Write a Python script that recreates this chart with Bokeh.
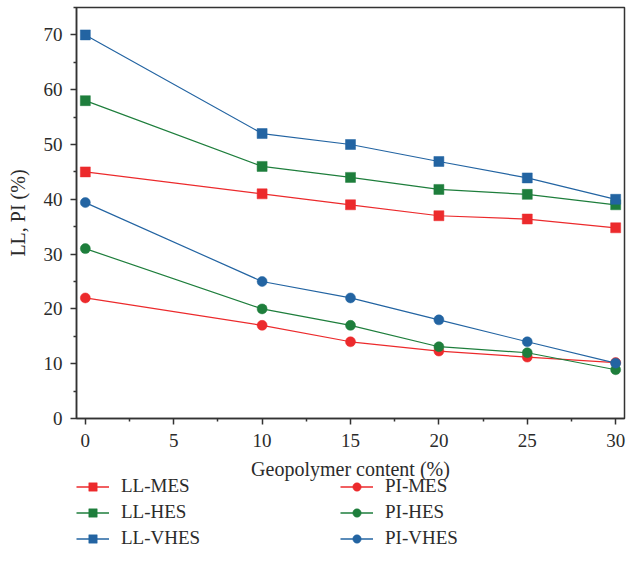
from bokeh.plotting import figure
from bokeh.layouts import column
from bokeh.models import Legend, LegendItem, Range1d, FixedTicker
from bokeh.embed import file_html
from bokeh.resources import INLINE

x = [0, 10, 15, 20, 25, 30]
ll_mes = [45, 41, 39, 37, 36.4, 34.8]
ll_hes = [58, 46, 44, 41.8, 40.9, 39]
ll_vhes = [70, 52, 50, 46.9, 43.9, 40]
pi_mes = [22, 17, 14, 12.3, 11.2, 10.2]
pi_hes = [31, 20, 17, 13.1, 12, 8.9]
pi_vhes = [39.4, 25, 22, 18, 14, 10.1]
names = ["LL-MES", "LL-HES", "LL-VHES", "PI-MES", "PI-HES", "PI-VHES"]

RED = "#ec2a2c"
GREEN = "#1e7e3c"
BLUE = "#2364a2"
FONT = "Liberation Serif"
TXT = "#2b2b2b"

series = [
    (names[0], ll_mes, RED, "square"),
    (names[1], ll_hes, GREEN, "square"),
    (names[2], ll_vhes, BLUE, "square"),
    (names[3], pi_mes, RED, "circle"),
    (names[4], pi_hes, GREEN, "circle"),
    (names[5], pi_vhes, BLUE, "circle"),
]

MSIZE = 10

p = figure(width=626, height=484, output_backend="svg", toolbar_location=None,
           x_range=Range1d(-0.5, 30.5), y_range=Range1d(0, 75),
           min_border_left=76, min_border_right=2, min_border_top=7,
           min_border_bottom=66)
p.grid.visible = False
p.outline_line_color = "#333333"
p.outline_line_width = 1.5
p.border_fill_alpha = 0

for name, ys, col, mk in series:
    p.line(x, ys, line_color=col, line_width=1.2)
    p.scatter(x, ys, marker=mk, size=MSIZE,
              fill_color=col, line_color=col, line_width=0.5)

for ax in (p.xaxis[0], p.yaxis[0]):
    ax.axis_line_color = "#333333"
    ax.axis_line_width = 1.5
    ax.major_tick_line_color = "#333333"
    ax.minor_tick_line_color = "#333333"
    ax.major_tick_line_width = 1.5
    ax.minor_tick_line_width = 1.5
    ax.major_tick_in = 0
    ax.major_tick_out = 6
    ax.minor_tick_in = 0
    ax.minor_tick_out = 3
    ax.major_label_text_font = FONT
    ax.major_label_text_font_size = "19px"
    ax.major_label_text_color = TXT
    ax.axis_label_text_font = FONT
    ax.axis_label_text_font_size = "20px"
    ax.axis_label_text_font_style = "normal"
    ax.axis_label_text_color = TXT

p.xaxis.ticker = FixedTicker(ticks=[0, 5, 10, 15, 20, 25, 30],
                             minor_ticks=[2.5, 7.5, 12.5, 17.5, 22.5, 27.5])
p.yaxis.ticker = FixedTicker(ticks=[0, 10, 20, 30, 40, 50, 60, 70],
                             minor_ticks=[5, 15, 25, 35, 45, 55, 65, 75])
p.xaxis.axis_label = "Geopolymer content (%)"
p.yaxis.axis_label = "LL, PI (%)"
p.xaxis.major_label_standoff = 9
p.xaxis.axis_label_standoff = 8
p.yaxis.major_label_standoff = 8
p.yaxis.axis_label_standoff = 12

# legend panel below the chart (overlaps the chart's lower border slightly)
q = figure(width=626, height=106, output_backend="svg", toolbar_location=None,
           x_range=Range1d(0, 1), y_range=Range1d(0, 1),
           min_border_left=0, min_border_right=0, min_border_top=0,
           min_border_bottom=0, x_axis_location=None, y_axis_location=None,
           margin=(-10, 0, 0, 0))
q.grid.visible = False
q.outline_line_color = None
q.background_fill_alpha = 0
q.border_fill_alpha = 0

items = []
for name, ys, col, mk in series:
    r1 = q.line([-5, -4], [-5, -4], line_color=col, line_width=1.5)
    r2 = q.scatter([-5], [-5], marker=mk, size=MSIZE,
                   fill_color=col, line_color=col, line_width=0.5)
    items.append(LegendItem(label=name, renderers=[r1, r2]))

legend = Legend(items=items, ncols=2, orientation="vertical",
                location=(0, 31),
                label_text_font=FONT, label_text_font_size="19px",
                label_text_color=TXT,
                glyph_width=33, glyph_height=21, label_height=21,
                label_standoff=12, label_width=215, spacing=4,
                border_line_color=None, background_fill_alpha=0,
                padding=0, margin=0)
q.add_layout(legend, "center")

layout = column(p, q, spacing=0)
open("out.html", "w").write(file_html(layout, INLINE))
